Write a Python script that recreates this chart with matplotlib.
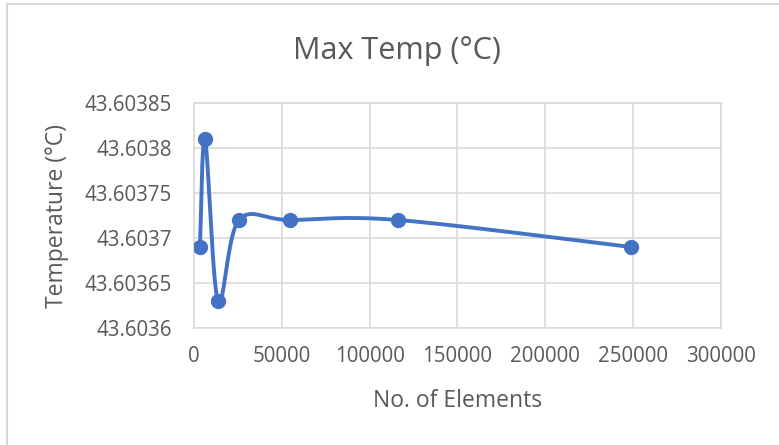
import matplotlib.pyplot as plt
import numpy as np
from matplotlib.lines import Line2D

# data
elements = [3400, 6300, 13700, 25600, 54600, 116100, 248800]
max_temp = [43.60369, 43.60381, 43.60363, 43.60372, 43.60372, 43.60372, 43.60369]

x_ticks = [0, 50000, 100000, 150000, 200000, 250000, 300000]
y_ticks = [43.6036, 43.60365, 43.6037, 43.60375, 43.6038, 43.60385]
y_tick_labels = ['43.6036', '43.60365', '43.6037', '43.60375', '43.6038', '43.60385']

TEXT = '#595959'
GRID = '#d9d9d9'
BLUE = '#4472c4'

plt.rcParams['font.family'] = ['Open Sans', 'DejaVu Sans']


def smooth_curve(xs, ys, n=40):
    # Excel style smoothed line: cubic bezier, control points from neighbours
    xs = np.asarray(xs, float)
    ys = np.asarray(ys, float)
    # work on normalised values so both axes weigh the same
    sx = (xs - xs.min()) / (xs.max() - xs.min())
    sy = (ys - ys.min()) / (ys.max() - ys.min())
    p = np.column_stack([sx, sy])
    out = []
    t = np.linspace(0, 1, n)[:, None]
    for i in range(len(p) - 1):
        p0 = p[i - 1] if i > 0 else p[i]
        p3 = p[i + 2] if i + 2 < len(p) else p[i + 1]
        c1 = p[i] + (p[i + 1] - p0) / 6
        c2 = p[i + 1] - (p3 - p[i]) / 6
        seg = ((1 - t) ** 3) * p[i] + 3 * ((1 - t) ** 2) * t * c1 \
            + 3 * (1 - t) * t ** 2 * c2 + t ** 3 * p[i + 1]
        out.append(seg)
    out = np.vstack(out)
    rx = out[:, 0] * (xs.max() - xs.min()) + xs.min()
    ry = out[:, 1] * (ys.max() - ys.min()) + ys.min()
    return rx, ry


fig = plt.figure(figsize=(7.79, 4.45), dpi=100)
ax = fig.add_axes([0.249, 0.263, 0.6765, 0.5055])

cx, cy = smooth_curve(elements, max_temp)
ax.plot(cx, cy, color=BLUE, lw=2.8, solid_capstyle='round', zorder=3)
ax.plot(elements, max_temp, 'o', color=BLUE, markersize=10, zorder=4)

ax.set_xlim(0, 300000)
ax.set_ylim(43.6036, 43.60385)
ax.set_xticks(x_ticks)
ax.set_xticklabels([str(v) for v in x_ticks])
ax.set_yticks(y_ticks)
ax.set_yticklabels(y_tick_labels)
ax.grid(True, color=GRID, lw=1.2, zorder=0)
ax.set_axisbelow(True)
for s in ax.spines.values():
    s.set_color(GRID)
    s.set_linewidth(1.2)
ax.tick_params(length=0, labelsize=14.8, colors=TEXT)
ax.tick_params(axis='y', pad=16)
ax.tick_params(axis='x', pad=13)

fig.text(0.51, 0.886, 'Max Temp (°C)', ha='center', va='center',
         fontsize=22, color=TEXT)
fig.text(0.587, 0.099, 'No. of Elements', ha='center', va='center',
         fontsize=16.5, color=TEXT)
fig.text(0.073, 0.5155, 'Temperature (°C)', ha='center', va='center',
         rotation=90, fontsize=16.5, color=TEXT)

# chart border (only top and left are in the screenshot)
fig.add_artist(Line2D([0.0085, 0.0085], [0, 0.99], color=GRID, lw=1.5))
fig.add_artist(Line2D([0.0085, 1], [0.99, 0.99], color=GRID, lw=1.5))

fig.savefig('out.png', dpi=100, facecolor='white')
